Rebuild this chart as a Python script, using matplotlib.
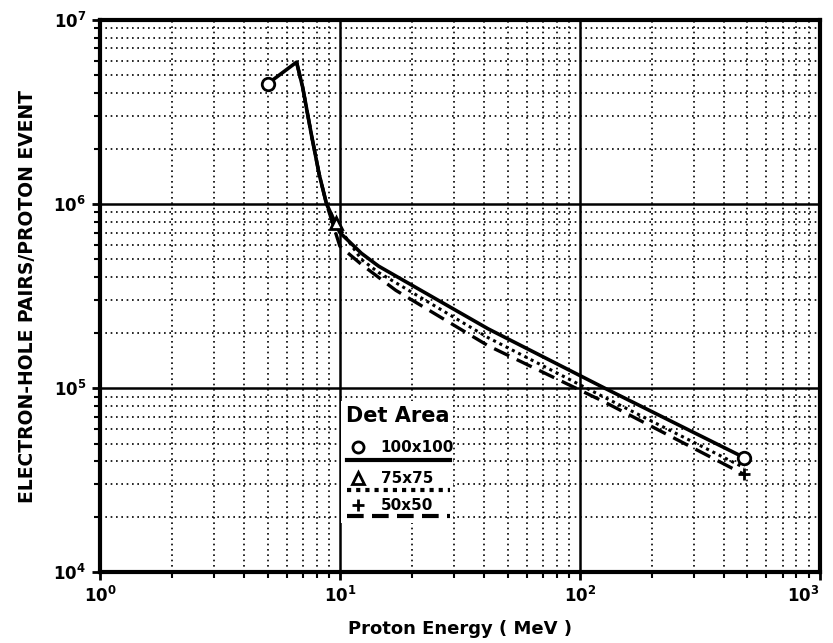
import matplotlib.pyplot as plt
import matplotlib.ticker as mticker
from matplotlib.lines import Line2D
from matplotlib.patches import Rectangle

# energie (MeV) et paires e-h
energy_100 = [5.0, 6.6, 7.0, 7.6, 8.2, 8.8, 10.0, 12.3, 14.5, 41.5, 127, 484]
pairs_100 = [4.5e6, 5.9e6, 4.3e6, 2.4e6, 1.45e6, 1.0e6, 7.0e5, 5.4e5, 4.6e5, 2.1e5, 1.0e5, 4.2e4]

energy_75 = [6.6, 7.0, 7.6, 8.2, 8.8, 9.6, 12.3, 14.5, 41.5, 127, 484]
pairs_75 = [5.9e6, 4.3e6, 2.4e6, 1.45e6, 1.0e6, 7.9e5, 5.0e5, 4.25e5, 1.88e5, 8.9e4, 3.7e4]

energy_50 = [6.6, 7.0, 7.6, 8.2, 8.8, 10.0, 12.3, 17.1, 41.5, 127, 484]
pairs_50 = [5.9e6, 4.3e6, 2.4e6, 1.45e6, 1.0e6, 5.9e5, 4.7e5, 3.4e5, 1.7e5, 8.4e4, 3.4e4]

legend_labels = ["100x100", "75x75", "50x50"]

fig = plt.figure(figsize=(8.33, 6.43), dpi=100)
ax = fig.add_axes([0.120, 0.110, 0.864, 0.859])

ax.plot(energy_100, pairs_100, color="black", lw=2.6, ls="-")
ax.plot(energy_75, pairs_75, color="black", lw=2.2, ls=(0, (1, 1.3)))
ax.plot(energy_50, pairs_50, color="black", lw=2.4, ls=(0, (5, 2.5)))

# marqueurs aux extrémités
ax.plot(energy_100[0], pairs_100[0], marker="o", ms=9, mfc="white", mec="black", mew=2)
ax.plot(energy_100[-1], pairs_100[-1], marker="o", ms=9, mfc="white", mec="black", mew=2)
ax.plot(energy_75[5], pairs_75[5], marker="^", ms=8, mfc="white", mec="black", mew=2)
ax.plot(energy_50[-1], pairs_50[-1], marker="+", ms=9, mec="black", mew=2)

ax.set_xscale("log")
ax.set_yscale("log")
ax.set_xlim(1, 1000)
ax.set_ylim(1e4, 1e7)

ax.xaxis.set_minor_locator(mticker.LogLocator(base=10, subs=range(2, 10)))
ax.yaxis.set_minor_locator(mticker.LogLocator(base=10, subs=range(2, 10)))
ax.xaxis.set_minor_formatter(mticker.NullFormatter())
ax.yaxis.set_minor_formatter(mticker.NullFormatter())
ax.set_xticks([1, 10, 100, 1000])
ax.set_xticklabels([r"$\mathbf{10^0}$", r"$\mathbf{10^1}$", r"$\mathbf{10^2}$", r"$\mathbf{10^3}$"])
ax.set_yticks([1e4, 1e5, 1e6, 1e7])
ax.set_yticklabels([r"$\mathbf{10^4}$", r"$\mathbf{10^5}$", r"$\mathbf{10^6}$", r"$\mathbf{10^7}$"])
ax.get_xticklabels()[-1].set_horizontalalignment("right")

ax.grid(True, which="major", color="black", lw=1.8, ls="-")
ax.grid(True, which="minor", color="black", lw=1.2, ls=(0, (1, 2.2)))

ax.tick_params(which="major", direction="out", length=6, width=2, labelsize=12, pad=4)
ax.tick_params(which="minor", direction="out", length=4, width=1.5)
for s in ax.spines.values():
    s.set_linewidth(3)

ax.set_xlabel("Proton Energy ( MeV )", fontsize=13, fontweight="bold", labelpad=10)
ax.set_ylabel("ELECTRON-HOLE PAIRS/PROTON EVENT", fontsize=13.5, fontweight="bold", labelpad=12)

# légende dessinée à la main
tr = ax.transAxes
ax.add_patch(Rectangle((0.335, 0.090), 0.155, 0.22, transform=tr, facecolor="white",
                       edgecolor="none", zorder=3))
ax.text(0.342, 0.283, "Det Area", transform=tr, fontsize=15, fontweight="bold",
        va="center", zorder=4)
row_y = [0.226, 0.170, 0.121]
line_y = [0.204, 0.149, 0.101]
symbols = ["o", "^", "+"]
styles = ["-", (0, (1, 1.2)), (0, (4, 2))]
for lab, sym, st, ty, ly in zip(legend_labels, symbols, styles, row_y, line_y):
    ax.plot([0.358], [ty], transform=tr, marker=sym, ms=8, mfc="white", mec="black",
            mew=2, ls="none", zorder=4)
    ax.text(0.390, ty, lab, transform=tr, fontsize=11, fontweight="bold", va="center", zorder=4)
    ax.add_line(Line2D([0.343, 0.487], [ly, ly], transform=tr, color="black", lw=3,
                       ls=st, zorder=4))

plt.savefig("out.png", dpi=100)
